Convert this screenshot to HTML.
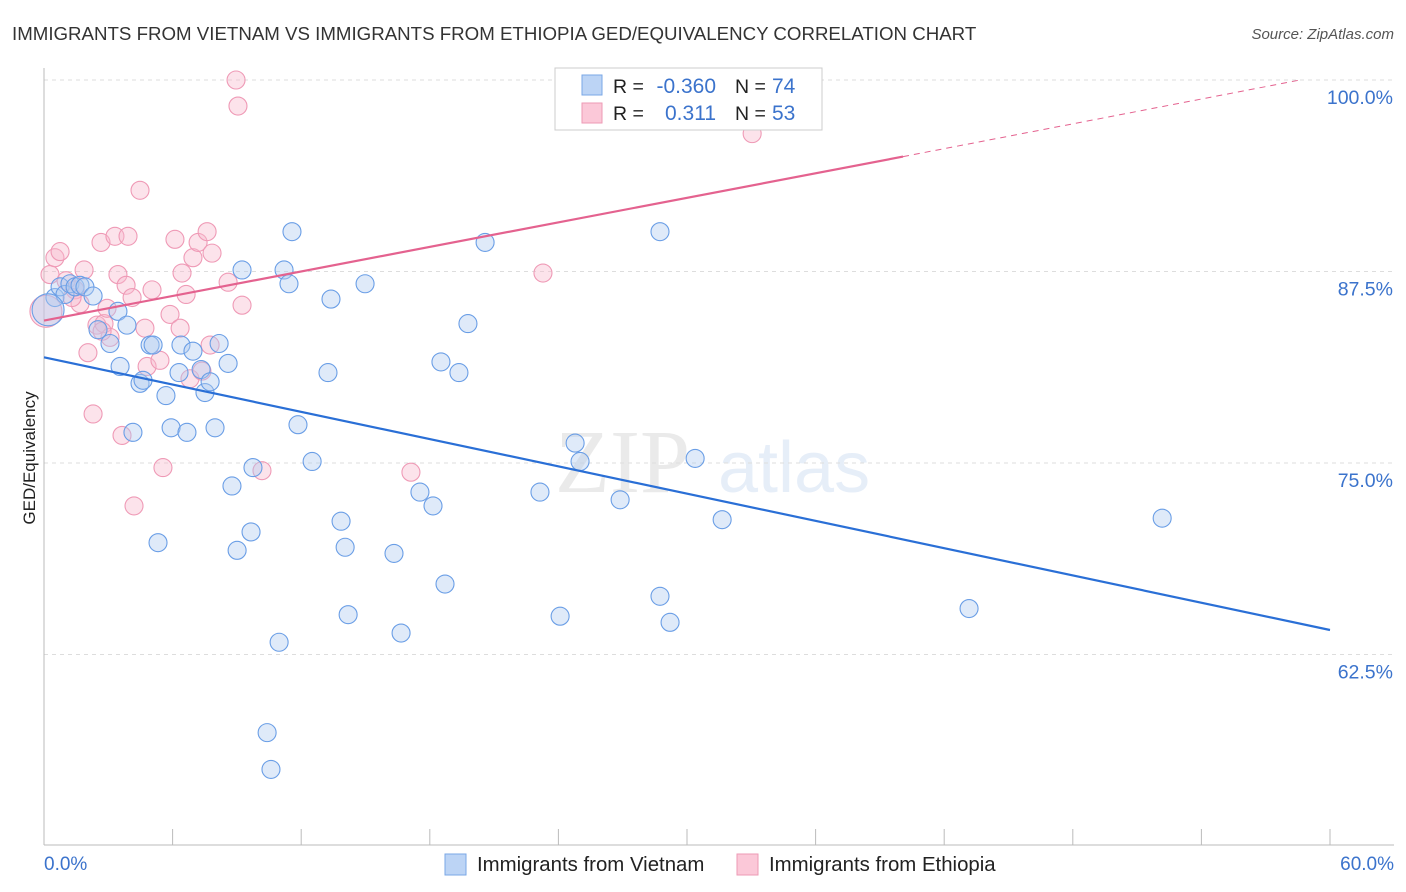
<!DOCTYPE html>
<html><head><meta charset="utf-8"><style>
body{margin:0;background:#fff;font-family:"Liberation Sans",sans-serif;}
svg{display:block}
</style></head><body>
<svg id="chart" width="1406" height="892">
<text x="12" y="40" font-size="18.7" fill="#333">IMMIGRANTS FROM VIETNAM VS IMMIGRANTS FROM ETHIOPIA GED/EQUIVALENCY CORRELATION CHART</text>
<text x="1394" y="39" font-size="15" fill="#555" text-anchor="end" font-style="italic">Source: ZipAtlas.com</text>
<g opacity="0.13"><text x="555" y="492" font-size="90" font-family="Liberation Serif,serif" fill="#666">ZIP</text><text x="718" y="492" font-size="72" fill="#4a7fd0">atlas</text></g>
<g id="grid"></g>
<line x1="44" y1="68" x2="44" y2="845" stroke="#bbb"/>
<line x1="44" y1="845" x2="1394" y2="845" stroke="#bbb"/>
<text x="35" y="458" font-size="17" fill="#222" text-anchor="middle" transform="rotate(-90 35 458)">GED/Equivalency</text>
<text x="44" y="870" font-size="19" fill="#3b73cc">0.0%</text>
<text x="1394" y="870" font-size="19" fill="#3b73cc" text-anchor="end">60.0%</text>
<g id="pts"></g>
<g id="lines"></g>
<g>
<rect x="555" y="68" width="267" height="62" fill="#fff" stroke="#ccc"/>
<rect x="582" y="75" width="20" height="20" fill="#bcd4f5" stroke="#7aa7e6"/>
<rect x="582" y="103" width="20" height="20" fill="#fbc8d8" stroke="#ee9ab5"/>
<text x="613" y="93" font-size="19.5" fill="#222">R = </text><text x="716" y="93" font-size="21" fill="#3b73cc" text-anchor="end">-0.360</text>
<text x="735" y="93" font-size="19.5" fill="#222">N = </text><text x="772" y="93" font-size="21" fill="#3b73cc">74</text>
<text x="613" y="120" font-size="19.5" fill="#222">R = </text><text x="716" y="120" font-size="21" fill="#3b73cc" text-anchor="end">0.311</text>
<text x="735" y="120" font-size="19.5" fill="#222">N = </text><text x="772" y="120" font-size="21" fill="#3b73cc">53</text>
</g>
<g><rect x="445" y="854" width="21" height="21" fill="#bcd4f5" stroke="#7aa7e6"/><text x="477" y="871" font-size="20.4" fill="#222">Immigrants from Vietnam</text></g>
<g><rect x="737" y="854" width="21" height="21" fill="#fbc8d8" stroke="#ee9ab5"/><text x="769" y="871" font-size="20.4" fill="#222">Immigrants from Ethiopia</text></g>
</svg>
<script>
const yTicks=[100,87.5,75,62.5];
const yTickLabels=["100.0%","87.5%","75.0%","62.5%"];
const xTicks=[0,6,12,18,24,30,36,42,48,54,60];
const blueX=[0.51,0.75,0.98,1.21,1.45,1.68,1.91,2.29,2.52,3.08,3.45,3.55,3.87,4.15,4.48,4.62,4.95,5.09,5.32,5.69,5.93,6.30,6.39,6.67,6.95,7.33,7.51,7.75,7.98,8.17,8.59,8.77,9.01,9.24,9.66,9.75,10.41,10.59,10.97,11.20,11.43,11.57,11.85,12.51,13.25,13.39,13.86,14.05,14.19,14.98,16.33,16.66,17.54,18.15,18.52,18.71,19.36,19.78,20.58,23.14,24.08,24.78,25.01,26.88,28.74,28.74,29.21,30.38,31.64,43.16,52.17,26.55,0.19];
const blueY=[85.8,86.5,86.0,86.7,86.5,86.6,86.5,85.9,83.7,82.8,84.9,81.3,84.0,77.0,80.2,80.4,82.7,82.7,69.8,79.4,77.3,80.9,82.7,77.0,82.3,81.1,79.6,80.3,77.3,82.8,81.5,73.5,69.3,87.6,70.5,74.7,57.4,55.0,63.3,87.6,86.7,90.1,77.5,75.1,80.9,85.7,71.2,69.5,65.1,86.7,69.1,63.9,73.1,72.2,81.6,67.1,80.9,84.1,89.4,73.1,65.0,76.3,75.1,72.6,90.1,66.3,64.6,75.3,71.3,65.5,71.4,100.0,85.0];
const pinkX=[0.28,0.51,0.75,1.03,1.45,1.68,1.87,2.05,2.29,2.47,2.66,2.80,2.94,3.08,3.31,3.45,3.64,3.83,3.92,4.11,4.20,4.48,4.71,4.81,5.04,5.41,5.55,5.88,6.11,6.35,6.44,6.63,6.81,6.95,7.19,7.37,7.61,7.75,7.84,8.59,8.96,9.05,9.24,10.17,17.12,23.28,30.61,33.04,2.71,1.31,0.09];
const pinkY=[87.3,88.4,88.8,86.9,86.3,85.4,87.6,82.2,78.2,84.0,89.4,84.1,85.1,83.2,89.8,87.3,76.8,86.6,89.8,85.8,72.2,92.8,83.8,81.3,86.3,81.7,74.7,84.7,89.6,83.8,87.4,86.0,80.5,88.4,89.4,81.0,90.1,82.7,88.7,86.8,100.0,98.3,85.3,74.5,74.4,87.4,99.9,96.5,83.6,85.8,84.9];
const blueBig=[72], pinkBig=[50];
const blueTrend=[0,81.9,60,64.1];
const pinkTrend=[0,84.3,40.08,95.0,58.6,100.0];
const NS="http://www.w3.org/2000/svg";
const sx=v=>44+v*(1286/60);
const sy=v=>80+(100-v)*15.32;
function mk(t,a,p){const e=document.createElementNS(NS,t);for(const k in a)e.setAttribute(k,a[k]);p.appendChild(e);return e;}
const grid=document.getElementById('grid');
yTicks.forEach((t,i)=>{
 const l=mk('line',{x1:44,x2:1394,y1:sy(t),y2:sy(t),stroke:'#ddd','stroke-dasharray':'4,4'},grid);
 
 
 const tx=mk('text',{x:1393,y:sy(t)+24,'font-size':19.5,fill:'#3b73cc','text-anchor':'end'},grid);
 tx.textContent=yTickLabels[i];
 
 
});
xTicks.forEach(t=>{
 const l=mk('line',{x1:sx(t),x2:sx(t),y1:829,y2:845,stroke:'#bbb'},grid);
 
 
});
const pts=document.getElementById('pts');
pinkX.forEach((x,i)=>{
 const c=mk('circle',{cx:sx(x),cy:sy(pinkY[i]),r:pinkBig.includes(i)?16:9,fill:'rgba(248,185,206,0.4)',stroke:'#ef9ab6','stroke-width':1.1},pts);
 
 
});
blueX.forEach((x,i)=>{
 const c=mk('circle',{cx:sx(x),cy:sy(blueY[i]),r:blueBig.includes(i)?16:9,fill:'rgba(175,203,240,0.4)',stroke:'#6a9ee6','stroke-width':1.1},pts);
 
 
});
const lines=document.getElementById('lines');
const bl=mk('line',{x1:sx(blueTrend[0]),y1:sy(blueTrend[1]),x2:sx(blueTrend[2]),y2:sy(blueTrend[3]),stroke:'#2a6fd6','stroke-width':2.2},lines);


const pl=mk('line',{x1:sx(pinkTrend[0]),y1:sy(pinkTrend[1]),x2:sx(pinkTrend[2]),y2:sy(pinkTrend[3]),stroke:'#e4628f','stroke-width':2.2},lines);


const pd=mk('line',{x1:sx(pinkTrend[2]),y1:sy(pinkTrend[3]),x2:sx(pinkTrend[4]),y2:sy(pinkTrend[5]),stroke:'#e4628f','stroke-width':1,'stroke-dasharray':'6,5'},lines);


</script>
</body></html>
